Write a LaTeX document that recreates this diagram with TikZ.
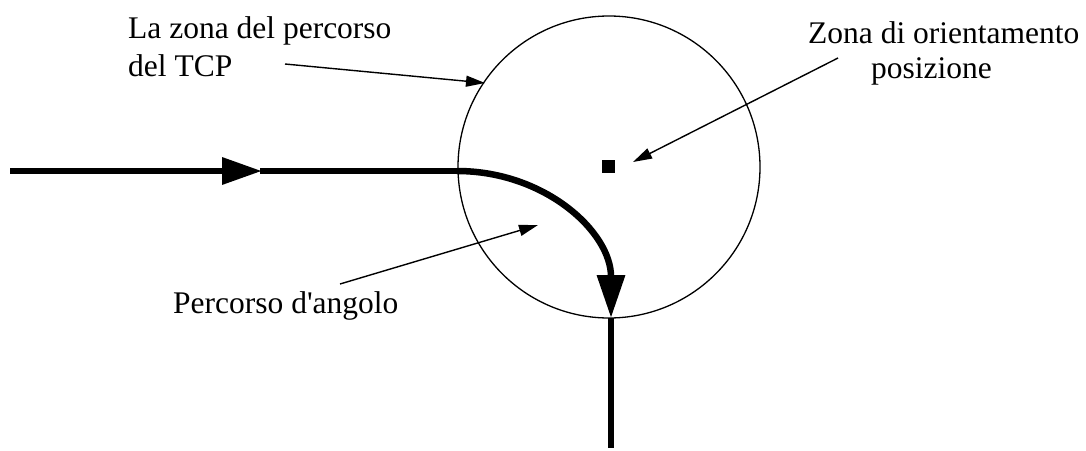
\documentclass[tikz,border=0pt]{standalone}
\usepackage{fontspec}
\setmainfont{Liberation Serif}
\usetikzlibrary{arrows.meta}
\begin{document}
\begin{tikzpicture}[x=1pt,y=-1pt,
  lbl/.style={inner sep=0pt,anchor=base west,font=\fontsize{31.5}{38}\selectfont},
  thin arrow/.style={line width=1.4pt,-{Triangle[length=19pt,width=11pt]}},
  path line/.style={line width=6.5pt},
  big tip/.style={-{Triangle[length=40pt,width=26pt]}},
]
\useasboundingbox (0,0) rectangle (1086,450);
% zone circle and target square
\node[draw,circle,line width=1.3pt,minimum size=302pt,inner sep=0pt] (zone) at (609,167) {};
\node[fill,rectangle,minimum size=13pt,inner sep=0pt] (pos) at (608.5,166.5) {};
% path coordinates
\coordinate (start) at (10,171);
\coordinate (mid) at (262,171);
\coordinate (p1) at (457,171);
\coordinate (p2) at (611,318);
\coordinate (stop) at (611,448);
\draw[path line,big tip] (start) -- (mid);
\draw[path line] ([xshift=-2pt]mid) -- (p1);
\draw[path line,-{Triangle[length=43pt,width=27pt]}] (p1) .. controls (545,171) and (611,232) .. (p2);
\draw[path line] (p2) -- (stop);
% labels
\node[lbl] (l1a) at (128,38) {La zona del percorso};
\node[lbl] (l1b) at (128,76) {del TCP};
\node[lbl] (l2a) at (808,43) {Zona di orientamento};
\node[lbl] (l2b) at (871,78) {posizione};
\node[lbl] (l3) at (173,313) {Percorso d\textquotesingle angolo};
% label arrows
\coordinate (a1s) at (285,64);
\coordinate (a1e) at (485,83);
\coordinate (a2s) at (838,58);
\coordinate (a2e) at (633,162);
\coordinate (a3s) at (340,284);
\coordinate (a3e) at (538,225);
\draw[thin arrow] (a1s) -- (a1e);
\draw[thin arrow] (a2s) -- (a2e);
\draw[thin arrow] (a3s) -- (a3e);
\end{tikzpicture}
\end{document}
